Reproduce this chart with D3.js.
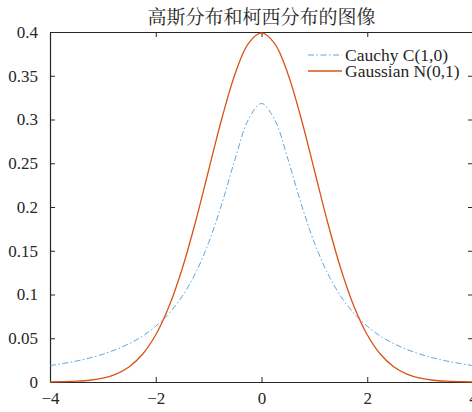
<!DOCTYPE html>
<html>
<head>
<meta charset="utf-8">
<title>高斯分布和柯西分布的图像</title>
<script src="https://cdnjs.cloudflare.com/ajax/libs/d3/7.8.5/d3.min.js"></script>
<style>
body{
margin:0;
background:#fff;
overflow:hidden
}
svg{
display:block
}
</style>
</head>
<body>
<svg width="472" height="412"></svg>

<script>

// values, x from -4 to 4 every 0.25
var xs = [-4,-3.75,-3.5,-3.25,-3,-2.75,-2.5,-2.25,-2,-1.75,-1.5,-1.25,-1,-0.75,-0.5,-0.25,0,
	0.25,0.5,0.75,1,1.25,1.5,1.75,2,2.25,2.5,2.75,3,3.25,3.5,3.75,4]
var cauchy = [0.0187,0.0212,0.0240,0.0275,0.0318,0.0372,0.0439,0.0524,0.0637,0.0784,0.0979,0.1242,0.1592,0.2037,0.2546,0.2996,0.3183,
	0.2996,0.2546,0.2037,0.1592,0.1242,0.0979,0.0784,0.0637,0.0524,0.0439,0.0372,0.0318,0.0275,0.0240,0.0212,0.0187]
var gauss = [0.0001,0.0004,0.0009,0.0020,0.0044,0.0091,0.0175,0.0317,0.0540,0.0863,0.1295,0.1826,0.2420,0.3011,0.3521,0.3867,0.3989,
	0.3867,0.3521,0.3011,0.2420,0.1826,0.1295,0.0863,0.0540,0.0317,0.0175,0.0091,0.0044,0.0020,0.0009,0.0004,0.0001]
var xticks = [-4,-2,0,2,4]
var yticks = [0,0.05,0.1,0.15,0.2,0.25,0.3,0.35,0.4]
var names = ["Cauchy C(1,0)","Gaussian N(0,1)"]
var title = "高斯分布和柯西分布的图像"

var L = 50, R = 473, T = 32, B = 382
var SERIF = "Liberation Serif"
var svg = d3.select('svg')

var x = d3.scaleLinear().domain([-4,4]).range([L,R])
var y = d3.scaleLinear().domain([0,0.4]).range([B,T])

var fmt = d => d < 0 ? "\u2212" + Math.abs(d) : String(d)

// bottom / top axes
svg.append("g").attr("transform","translate(0,"+B+")")
	.call(d3.axisBottom(x).tickValues(xticks).tickSizeInner(-5).tickSizeOuter(0).tickPadding(10).tickFormat(fmt))
svg.append("g").attr("transform","translate(0,"+T+")")
	.call(d3.axisTop(x).tickValues(xticks).tickSizeInner(-5).tickSizeOuter(0).tickFormat(""))
// left / right axes
svg.append("g").attr("transform","translate("+L+",0)")
	.call(d3.axisLeft(y).tickValues(yticks).tickSizeInner(-5).tickSizeOuter(0).tickPadding(12).tickFormat(d => String(+d.toFixed(2))))
svg.append("g").attr("transform","translate("+R+",0)")
	.call(d3.axisRight(y).tickValues(yticks).tickSizeInner(-5).tickSizeOuter(0).tickFormat(""))

svg.selectAll("g").attr("font-family",SERIF)
svg.selectAll(".domain").attr("stroke","#262626").attr("stroke-width",1.2)
svg.selectAll(".tick line").attr("stroke","#262626").attr("stroke-width",1)
svg.selectAll(".tick text")
	.attr("font-family",SERIF)
	.attr("font-size",17)
	.attr("fill","#262626")

var line = d3.line().curve(d3.curveCatmullRom)

svg.append("path")
	.attr("d", line(xs.map((v,i) => [x(v), y(cauchy[i])])))
	.attr("fill","none")
	.attr("stroke","#4d9ad8")
	.attr("stroke-width",0.9)
	.attr("stroke-dasharray","6,2.5,1.5,2.5")

svg.append("path")
	.attr("d", line(xs.map((v,i) => [x(v), y(gauss[i])])))
	.attr("fill","none")
	.attr("stroke","#D95319")
	.attr("stroke-width",1.3)

// title
svg.append("text")
	.attr("x",(L+R)/2)
	.attr("y",24)
	.attr("text-anchor","middle")
	.attr("font-family","Noto Serif CJK SC, Noto Sans CJK SC")
	.attr("font-size",19)
	.attr("fill","#262626")
	.text(title)

// legend (no box)
var leg = svg.append("g")
leg.selectAll("line")
	.data(names)
	.join("line")
	.attr("x1",308).attr("x2",342)
	.attr("y1",(d,i) => 55+i*16).attr("y2",(d,i) => 55+i*16)
	.attr("stroke",(d,i) => i == 0 ? "#4d9ad8" : "#D95319")
	.attr("stroke-width",(d,i) => i == 0 ? 0.9 : 1.3)
	.attr("stroke-dasharray",(d,i) => i == 0 ? "6,2.5,1.5,2.5" : null)
leg.selectAll("text")
	.data(names)
	.join("text")
	.attr("x",345)
	.attr("y",(d,i) => 55+i*16)
	.attr("dy","0.32em")
	.attr("font-family",SERIF)
	.attr("font-size",17.5)
	.attr("fill","#262626")
	.text(d => d)

</script>
</body>
</html>
